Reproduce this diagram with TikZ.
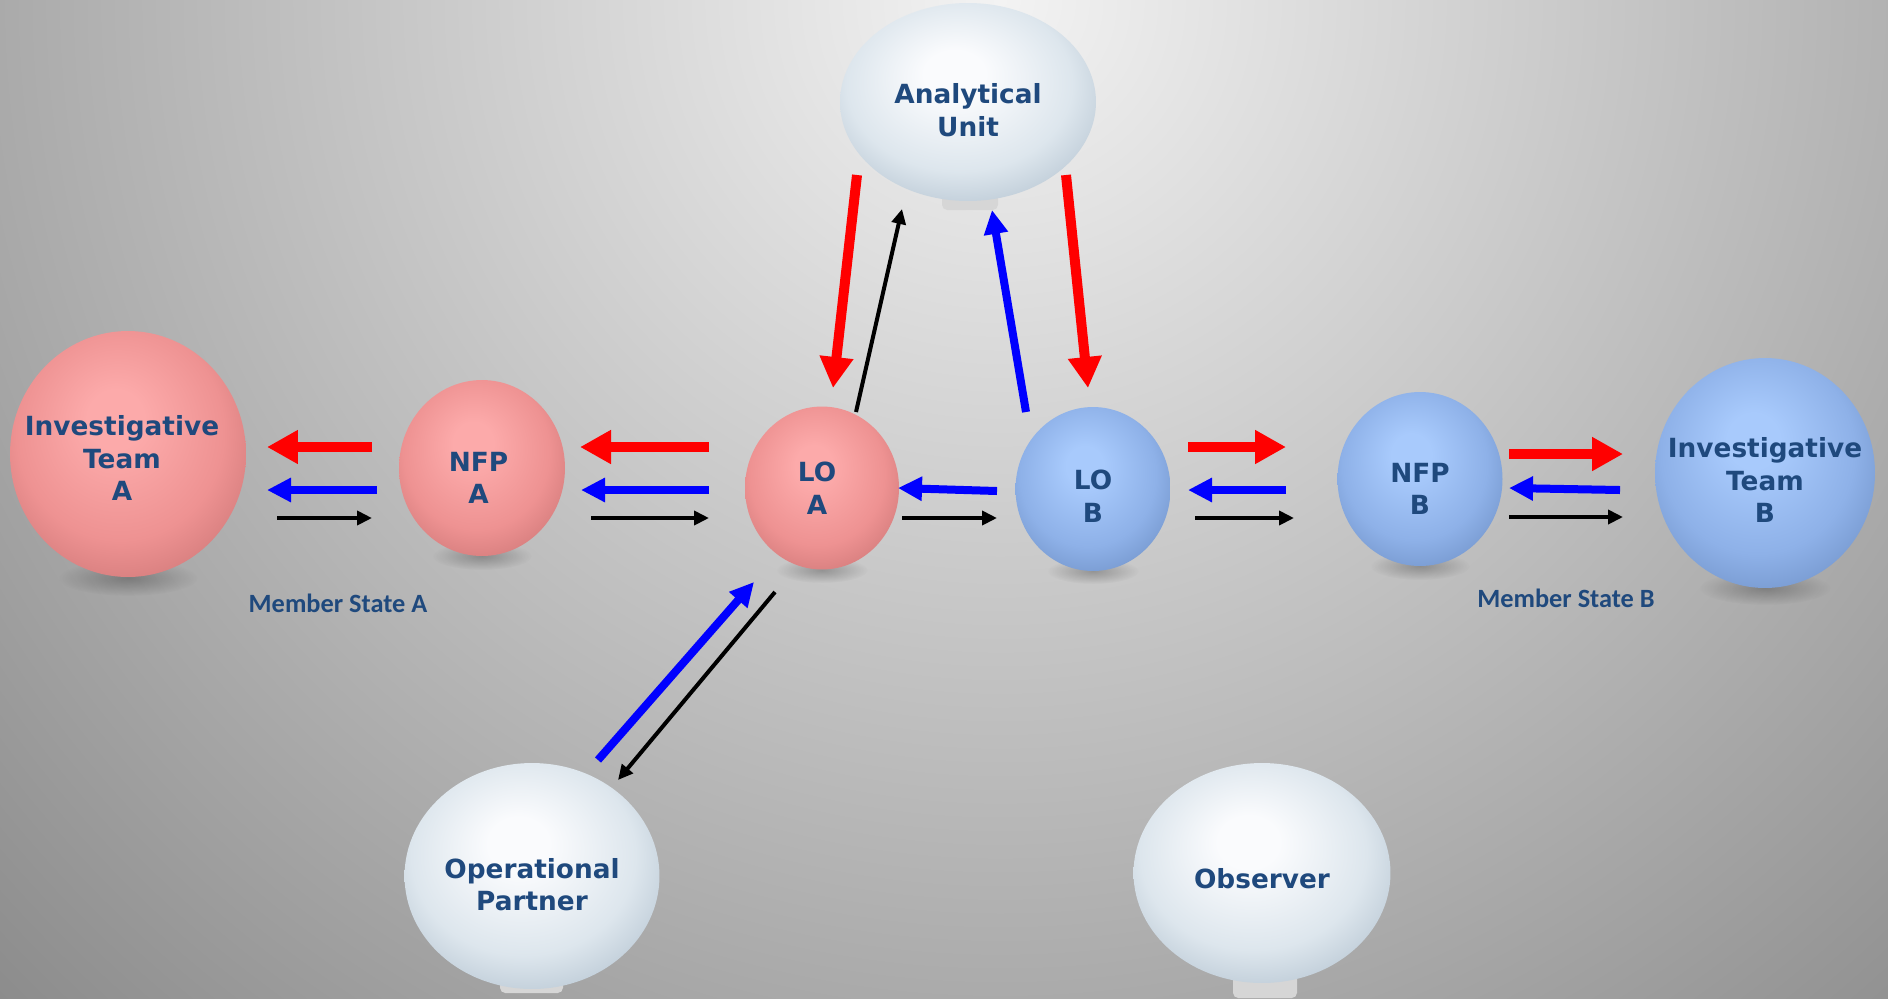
\documentclass[tikz,border=0pt]{standalone}
\usepackage{fontspec}
\usetikzlibrary{shapes.geometric,arrows.meta,fadings}
\newfontfamily\ballfont{DejaVu Sans}
\newfontfamily\statefont{Carlito}

\definecolor{txtblue}{RGB}{31,73,125}
\definecolor{bgtop}{RGB}{243,243,243}
\definecolor{bgdark}{RGB}{140,140,140}
\definecolor{redlight}{RGB}{252,170,170}
\definecolor{redbase}{RGB}{238,146,146}
\definecolor{rededge}{RGB}{212,124,124}
\definecolor{bluelight}{RGB}{168,202,252}
\definecolor{bluebase}{RGB}{142,177,232}
\definecolor{blueedge}{RGB}{118,152,206}
\definecolor{greylight}{RGB}{250,251,253}
\definecolor{greybase}{RGB}{221,230,237}
\definecolor{greyedge}{RGB}{188,202,214}
\definecolor{stubgrey}{RGB}{214,214,214}

\pgfdeclareradialshading{redshade}{\pgfpoint{-3bp}{8bp}}{color(0bp)=(redlight); color(6bp)=(redlight); color(22bp)=(redbase); color(31bp)=(rededge); color(50bp)=(rededge)}
\pgfdeclareradialshading{blueshade}{\pgfpoint{-3bp}{8bp}}{color(0bp)=(bluelight); color(6bp)=(bluelight); color(22bp)=(bluebase); color(31bp)=(blueedge); color(50bp)=(blueedge)}
\pgfdeclareradialshading{greyshade}{\pgfpoint{-3bp}{8bp}}{color(0bp)=(greylight); color(6bp)=(greylight); color(22bp)=(greybase); color(31bp)=(greyedge); color(50bp)=(greyedge)}
\tikzfading[name=softshadow, inner color=transparent!25, outer color=transparent!100]

\tikzset{
  ball/.style={ellipse, inner sep=0pt},
  balltext/.style={align=center, text=txtblue, inner sep=0pt,
    font=\ballfont\bfseries\fontsize{15}{18.6}\selectfont},
  redball/.style={ball, shading=redshade},
  blueball/.style={ball, shading=blueshade},
  greyball/.style={ball, shading=greyshade},
  redarrow/.style={draw=red, line width=0.2cm, -{Triangle[length=0.62cm,width=0.64cm]}},
  bluearrow/.style={draw=blue, line width=0.16cm, -{Triangle[length=0.48cm,width=0.46cm]}},
  blackarrow/.style={draw=black, line width=0.08cm, -{Triangle[length=0.3cm,width=0.28cm]}},
  statelabel/.style={text=txtblue, font=\statefont\bfseries\fontsize{15}{18}\selectfont},
  ballshadow/.style={black, opacity=0.35, path fading=softshadow}
}

\begin{document}
\begin{tikzpicture}[x=0.02cm,y=-0.02cm]
\useasboundingbox (0,0) rectangle (1888,998);

% background
\fill[bgdark] (0,0) rectangle (1888,998);
\begin{scope}
\clip (0,0) rectangle (1888,998);
\shade[inner color=bgtop, outer color=bgdark] (1000,0) circle (1414);
\end{scope}

% shadows and stands
\fill[ballshadow] (128,578) ellipse (70 and 18);
\fill[ballshadow] (482,556) ellipse (50 and 14);
\fill[ballshadow] (822,570) ellipse (46 and 13);
\fill[ballshadow] (1093,571) ellipse (46 and 13);
\fill[ballshadow] (1420,566) ellipse (50 and 14);
\fill[ballshadow] (1765,588) ellipse (66 and 17);
\fill[stubgrey, rounded corners=3pt] (942,190) rectangle (998,210);
\fill[stubgrey, rounded corners=3pt] (500,970) rectangle (563,993);
\fill[stubgrey, rounded corners=3pt] (1233,972) rectangle (1297,998);

% balls
\node[redball, minimum width=4.72cm, minimum height=4.92cm,
  label={[balltext, xshift=-0.12cm, yshift=-0.08cm]center:{Investigative\\Team\\A}}] (itA) at (128,454) {};
\node[redball, minimum width=3.32cm, minimum height=3.52cm,
  label={[balltext, xshift=-0.07cm, yshift=-0.2cm]center:{NFP\\A}}] (nfpA) at (482,468) {};
\node[redball, minimum width=3.08cm, minimum height=3.26cm,
  label={[balltext, xshift=-0.1cm]center:{LO\\A}}] (loA) at (822,488) {};
\node[blueball, minimum width=3.10cm, minimum height=3.28cm,
  label={[balltext, yshift=-0.14cm]center:{LO\\B}}] (loB) at (1093,489) {};
\node[blueball, minimum width=3.30cm, minimum height=3.48cm,
  label={[balltext, yshift=-0.2cm]center:{NFP\\B}}] (nfpB) at (1420,479) {};
\node[blueball, minimum width=4.40cm, minimum height=4.60cm,
  label={[balltext, yshift=-0.14cm]center:{Investigative\\Team\\B}}] (itB) at (1765,473) {};
\node[greyball, minimum width=5.12cm, minimum height=3.96cm,
  label={[balltext, yshift=-0.17cm]center:{Analytical\\Unit}}] (au) at (968,102) {};
\node[greyball, minimum width=5.10cm, minimum height=4.52cm,
  label={[balltext, yshift=-0.17cm]center:{Operational\\Partner}}] (op) at (532,876) {};
\node[greyball, minimum width=5.14cm, minimum height=4.40cm,
  label={[balltext, yshift=-0.12cm]center:{Observer}}] (obs) at (1262,873) {};

\node[statelabel] (msA) at (338,603) {Member State A};
\node[statelabel] (msB) at (1566,598) {Member State B};

% arrow ends
\coordinate (r1-a) at (372,447);  \coordinate (r1-b) at (267,447);
\coordinate (r2-a) at (709,447);  \coordinate (r2-b) at (580,447);
\coordinate (r3-a) at (1188,447); \coordinate (r3-b) at (1286,447);
\coordinate (r4-a) at (1509,454); \coordinate (r4-b) at (1623,454);
\coordinate (r5-a) at (857,175);  \coordinate (r5-b) at (833,388);
\coordinate (r6-a) at (1066,175); \coordinate (r6-b) at (1088,388);

\coordinate (b1-a) at (377,490);  \coordinate (b1-b) at (267,490);
\coordinate (b2-a) at (709,490);  \coordinate (b2-b) at (581,490);
\coordinate (b3-a) at (997,491);  \coordinate (b3-b) at (898,488);
\coordinate (b4-a) at (1286,490); \coordinate (b4-b) at (1188,490);
\coordinate (b5-a) at (1620,490); \coordinate (b5-b) at (1509,488);
\coordinate (b6-a) at (1026,412); \coordinate (b6-b) at (992,210);
\coordinate (b7-a) at (598,760);  \coordinate (b7-b) at (754,582);

\coordinate (k1-a) at (277,518);  \coordinate (k1-b) at (372,518);
\coordinate (k2-a) at (591,518);  \coordinate (k2-b) at (709,518);
\coordinate (k3-a) at (902,518);  \coordinate (k3-b) at (997,518);
\coordinate (k4-a) at (1195,518); \coordinate (k4-b) at (1294,518);
\coordinate (k5-a) at (1509,517); \coordinate (k5-b) at (1623,517);
\coordinate (k6-a) at (856,412);  \coordinate (k6-b) at (902,209);
\coordinate (k7-a) at (775,592);  \coordinate (k7-b) at (618,780);

\foreach \i in {1,...,6}
\draw[redarrow] (r\i-a) -- (r\i-b);
\foreach \i in {1,...,7}
\draw[bluearrow] (b\i-a) -- (b\i-b);
\foreach \i in {1,...,7}
\draw[blackarrow] (k\i-a) -- (k\i-b);
\end{tikzpicture}
\end{document}
